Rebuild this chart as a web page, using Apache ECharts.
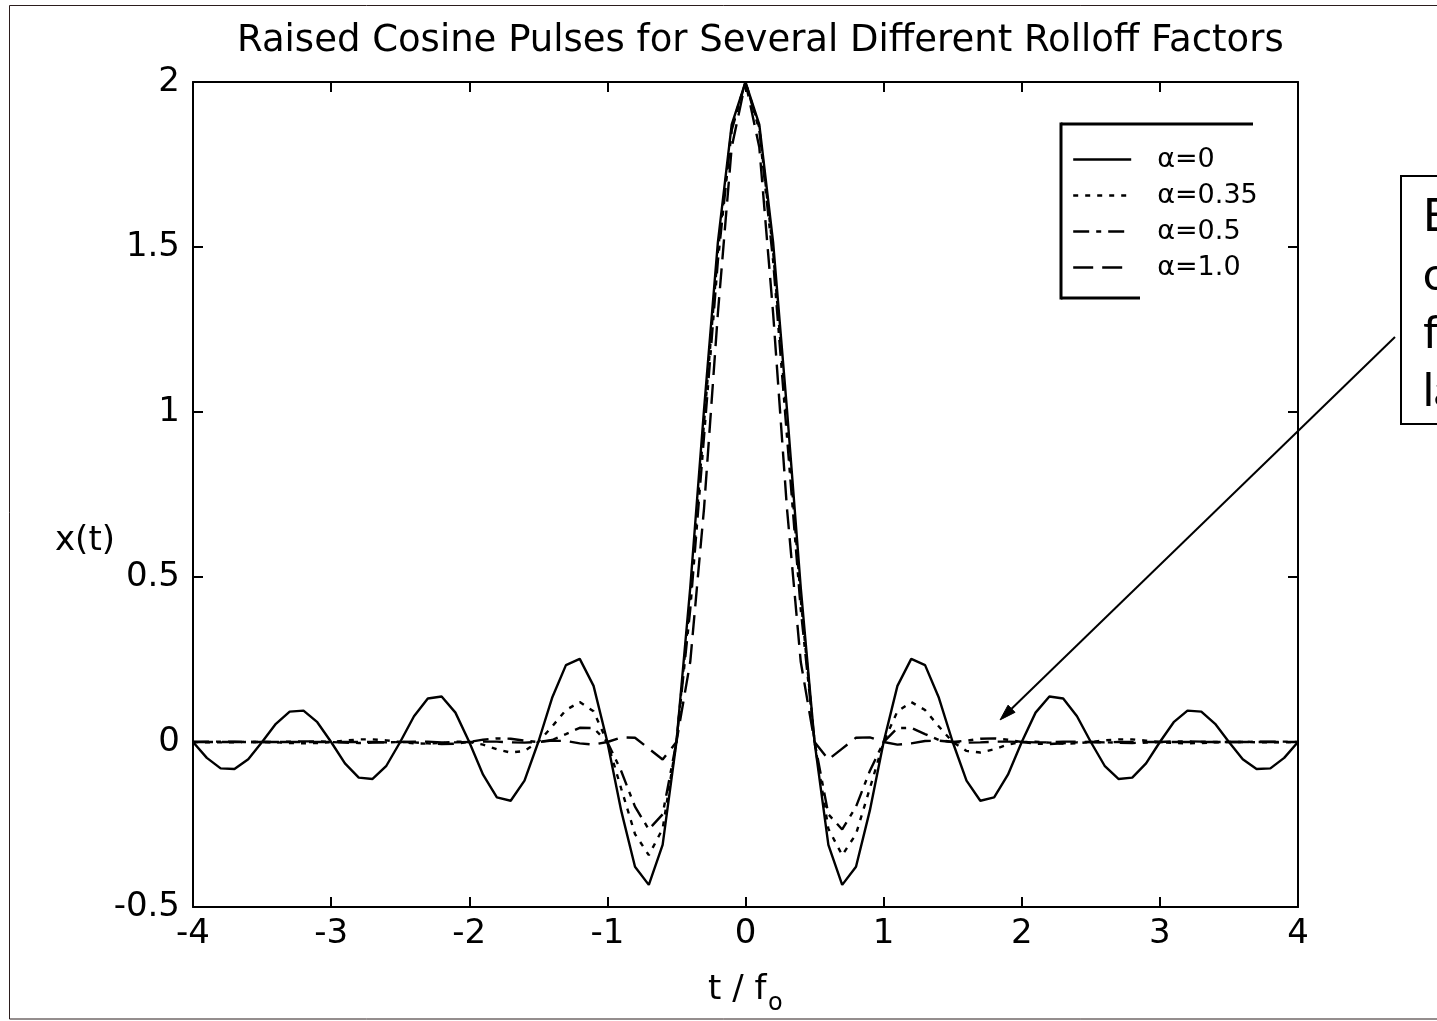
<!DOCTYPE html>
<html><head><meta charset="utf-8">
<script src="https://cdn.jsdelivr.net/npm/echarts@6/dist/echarts.min.js"></script>
<style>html,body{margin:0;padding:0;background:#fff}#c{width:1437px;height:1021px}</style>
</head><body><div id="c"></div>
<script>
// ---- data ----
const tValues = [-4.0,-3.9,-3.8,-3.7,-3.6,-3.5,-3.4,-3.3,-3.2,-3.1,
 -3.0,-2.9,-2.8,-2.7,-2.6,-2.5,-2.4,-2.3,-2.2,-2.1,
 -2.0,-1.9,-1.8,-1.7,-1.6,-1.5,-1.4,-1.3,-1.2,-1.1,
 -1.0,-0.9,-0.8,-0.7,-0.6,-0.5,-0.4,-0.3,-0.2,-0.1,
 0.0,
 0.1,0.2,0.3,0.4,0.5,0.6,0.7,0.8,0.9,1.0,
 1.1,1.2,1.3,1.4,1.5,1.6,1.7,1.8,1.9,2.0,
 2.1,2.2,2.3,2.4,2.5,2.6,2.7,2.8,2.9,3.0,
 3.1,3.2,3.3,3.4,3.5,3.6,3.7,3.8,3.9,4.0];

const alpha0 = [0,-0.048,-0.080,-0.082,-0.052,0,0.055,0.092,0.095,0.060,
 0,-0.065,-0.108,-0.112,-0.072,0,0.078,0.132,0.138,0.089,
 0,-0.099,-0.168,-0.178,-0.117,0,0.134,0.233,0.252,0.170,
 0,-0.208,-0.378,-0.433,-0.312,0,0.468,1.009,1.514,1.871,
 2,
 1.871,1.514,1.009,0.468,0,-0.312,-0.433,-0.378,-0.208,0,
 0.170,0.252,0.233,0.134,0,-0.117,-0.178,-0.168,-0.099,0,
 0.089,0.138,0.132,0.078,0,-0.072,-0.112,-0.108,-0.065,0,
 0.060,0.095,0.092,0.055,0,-0.052,-0.082,-0.080,-0.048,0];

const alpha035 = [0,-0.001,-0.001,-0.001,0.000,0,-0.001,-0.003,-0.004,-0.003,
 0,0.004,0.008,0.008,0.005,0,-0.004,-0.005,-0.002,0.001,
 0,-0.008,-0.022,-0.032,-0.027,0,0.047,0.097,0.121,0.093,
 0,-0.141,-0.279,-0.343,-0.263,0,0.434,0.968,1.486,1.862,
 2,
 1.862,1.486,0.968,0.434,0,-0.263,-0.343,-0.279,-0.141,0,
 0.093,0.121,0.097,0.047,0,-0.027,-0.032,-0.022,-0.008,0,
 0.001,-0.002,-0.005,-0.004,0,0.005,0.008,0.008,0.004,0,
 -0.003,-0.004,-0.003,-0.001,0,0.000,-0.001,-0.001,-0.001,0];

const alpha05 = [0,0.001,0.001,0.001,0.000,0,0.000,0.001,0.002,0.002,
 0,-0.002,-0.003,-0.002,-0.001,0,-0.001,-0.004,-0.006,-0.005,
 0,0.007,0.011,0.010,0.004,0,0.006,0.024,0.043,0.042,
 0,-0.088,-0.196,-0.265,-0.219,0,0.402,0.927,1.458,1.854,
 2,
 1.854,1.458,0.927,0.402,0,-0.219,-0.265,-0.196,-0.088,0,
 0.042,0.043,0.024,0.006,0,0.004,0.010,0.011,0.007,0,
 -0.005,-0.006,-0.004,-0.001,0,-0.001,-0.002,-0.003,-0.002,0,
 0.002,0.002,0.001,0.000,0,0.000,0.001,0.001,0.001,0];

const alpha1 = [0,0,0,0,0,0,0,0,0,0,
 0,0,0,0,-0.001,0,0.001,0.001,-0.001,-0.001,
 0,0.001,0.001,-0.001,-0.002,0,0.004,0.003,-0.004,-0.008,
 0,0.014,0.013,-0.020,-0.053,0,0.243,0.709,1.299,1.802,
 2,
 1.802,1.299,0.709,0.243,0,-0.053,-0.020,0.013,0.014,0,
 -0.008,-0.004,0.003,0.004,0,-0.002,-0.001,0.001,0.001,0,
 -0.001,-0.001,0.001,0.001,0,-0.001,0,0,0,0,
 0,0,0,0,0,0,0,0,0,0];

const seriesNames = ['α=0', 'α=0.35', 'α=0.5', 'α=1.0'];
const xTickLabels = ['-4','-3','-2','-1','0','1','2','3','4'];
const yTickLabels = ['-0.5','0','0.5','1','1.5','2'];
const titleText = 'Raised Cosine Pulses for Several Different Rolloff Factors';
const annotationLines = ['E', 'c', 'f', 'la'];
const arrowTarget = [1.843, 0.067];

// ---- chart ----
const FONT = 'DejaVu Sans';
const dashes = ['solid', [5, 7], [16, 7, 5, 7], [20, 9]];
const allSeries = [alpha0, alpha035, alpha05, alpha1];

const chart = echarts.init(document.getElementById('c'), null, {renderer: 'canvas'});

function axisCommon(showLabel, labels, margin) {
  return {
    axisLine: {show: true, onZero: false, lineStyle: {color: '#000', width: 2}},
    axisTick: {show: true, inside: true, length: 10, lineStyle: {color: '#000', width: 2}},
    splitLine: {show: false},
    axisLabel: showLabel ? {
      show: true, color: '#000', fontSize: 34, fontFamily: FONT, margin: margin,
      formatter: function (v) {
        const s = String(+v.toFixed(2));
        return labels.indexOf(s) >= 0 ? s : '';
      }
    } : {show: false}
  };
}

const xBase = {type: 'value', min: -4, max: 4, interval: 1};
const yBase = {type: 'value', min: -0.5, max: 2, interval: 0.5};

const option = {
  backgroundColor: '#fff',
  animation: false,
  title: {
    text: titleText, left: 232, top: 18,
    textStyle: {fontSize: 37, fontWeight: 'normal', fontFamily: FONT, color: '#000'}
  },
  grid: {left: 193, right: 139, top: 82, bottom: 114, containLabel: false, outerBoundsMode: 'none'},
  legend: {
    orient: 'vertical', left: 1072, top: 146, padding: 0,
    itemWidth: 58, itemHeight: 14, itemGap: 9,
    data: seriesNames,
    selectedMode: false,
    textStyle: {fontSize: 27, fontFamily: FONT, color: '#000', padding: [0, 0, 0, 21]},
    itemStyle: {opacity: 0, borderWidth: 0},
    lineStyle: {width: 2.4}
  },
  xAxis: [
    Object.assign({}, xBase, {position: 'bottom'}, axisCommon(true, xTickLabels, 10)),
    Object.assign({}, xBase, {position: 'top'}, axisCommon(false))
  ],
  yAxis: [
    Object.assign({}, yBase, {position: 'left'}, axisCommon(true, yTickLabels, 13)),
    Object.assign({}, yBase, {position: 'right'}, axisCommon(false))
  ],
  series: allSeries.map(function (arr, i) {
    return {
      type: 'line', name: seriesNames[i],
      xAxisIndex: 0, yAxisIndex: 0,
      data: tValues.map(function (t, j) { return [t, arr[j]]; }),
      symbol: 'none', showSymbol: false, smooth: false,
      lineStyle: {color: '#000', width: 2.4, type: dashes[i]},
      itemStyle: {color: '#000'},
      emphasis: {disabled: true},
      z: 2 + i
    };
  })
};
chart.setOption(option);

// ---- annotations ----
const tip = chart.convertToPixel({xAxisIndex: 0, yAxisIndex: 0}, arrowTarget);
const start = [1395, 337];
const ang = Math.atan2(tip[1] - start[1], tip[0] - start[0]);
const hl = 16, hw = 5;
const bx = tip[0] - hl * Math.cos(ang), by = tip[1] - hl * Math.sin(ang);
const head = [
  [tip[0], tip[1]],
  [bx + hw * Math.sin(ang), by - hw * Math.cos(ang)],
  [bx - hw * Math.sin(ang), by + hw * Math.cos(ang)]
];

const graphics = [
  {type: 'rect', shape: {x: 9.5, y: 5.5, width: 1440, height: 1013.5},
   style: {fill: 'none', stroke: '#2b1d1d', lineWidth: 1}, silent: true, z: 0},
  // legend frame
  {type: 'line', shape: {x1: 1061, y1: 124, x2: 1253, y2: 124}, style: {stroke: '#000', lineWidth: 3}, z: 10},
  {type: 'line', shape: {x1: 1061, y1: 122.5, x2: 1061, y2: 299.5}, style: {stroke: '#000', lineWidth: 3}, z: 10},
  {type: 'line', shape: {x1: 1061, y1: 298, x2: 1140, y2: 298}, style: {stroke: '#000', lineWidth: 3}, z: 10},
  // y label
  {type: 'text', x: 55, y: 541, style: {text: 'x(t)', fontSize: 34, fontFamily: FONT, fill: '#000', verticalAlign: 'middle', align: 'left'}, z: 10},
  // x label
  {type: 'text', x: 708, y: 990, style: {text: 't / f', fontSize: 34, fontFamily: FONT, fill: '#000', verticalAlign: 'middle', align: 'left'}, z: 10},
  {type: 'text', x: 768, y: 1004, style: {text: 'o', fontSize: 24, fontFamily: FONT, fill: '#000', verticalAlign: 'middle', align: 'left'}, z: 10},
  // annotation box
  {type: 'rect', shape: {x: 1401, y: 176, width: 200, height: 248}, style: {fill: '#fff', stroke: '#000', lineWidth: 2}, z: 10},
  // arrow
  {type: 'line', shape: {x1: start[0], y1: start[1], x2: bx, y2: by}, style: {stroke: '#000', lineWidth: 2}, z: 11},
  {type: 'polygon', shape: {points: head}, style: {fill: '#000', stroke: '#000', lineWidth: 1}, z: 11}
];
const annY = [216, 275, 333, 391];
annotationLines.forEach(function (s, i) {
  graphics.push({type: 'text', x: 1423, y: annY[i],
    style: {text: s, fontSize: 46, fontFamily: 'Lato', fill: '#000', verticalAlign: 'middle', align: 'left'}, z: 12});
});
chart.setOption({graphic: graphics});
</script>
</body></html>
